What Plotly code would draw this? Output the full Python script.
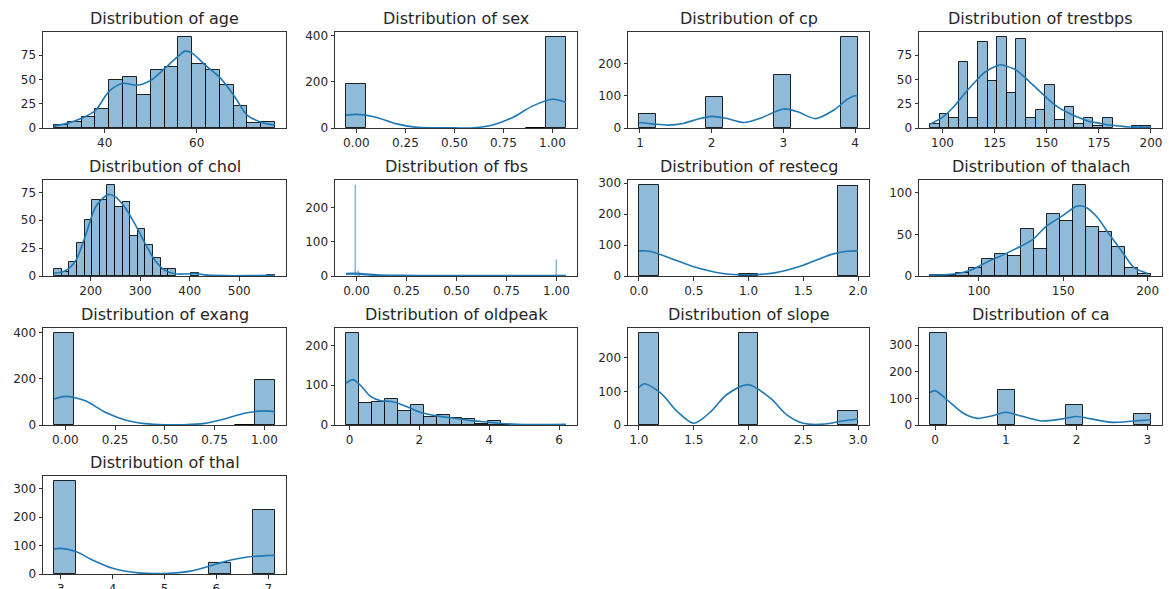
import numpy as np
import plotly.graph_objects as go

# ---------------- data ----------------
names = ["age", "sex", "cp", "trestbps", "chol", "fbs", "restecg", "thalach",
         "exang", "oldpeak", "slope", "ca", "thal"]

# histogram bins: (low edge, high edge, number of bins) and counts
age_bins = (29, 77, 16)
age_counts = [3, 6, 11, 20, 49, 52, 34, 60, 63, 94, 66, 60, 44, 23, 5, 6]
age_kde_x = [29, 32, 35, 38, 41, 44, 47, 50, 53, 56, 57.5, 59, 62, 65, 68, 71, 74, 77]
age_kde_y = [2, 5, 10, 18, 38, 46, 44, 49, 61, 74, 79, 77, 64, 52, 34, 13, 6, 3]

sex_bins = (-0.053, 1.069, 11)
sex_counts = [193, 0, 0, 0, 0, 0, 0, 0, 0, 2, 397]
sex_kde_x = [-0.053, 0, 0.1, 0.2, 0.3, 0.4, 0.5, 0.6, 0.7, 0.8, 0.9, 1.0, 1.069]
sex_kde_y = [55, 59, 47, 19, 4, 1, 0.5, 1, 14, 47, 96, 125, 112]

cp_bins = (0.986, 4.042, 13)
cp_counts = [44, 0, 0, 0, 95, 0, 0, 0, 165, 0, 0, 0, 283]
cp_kde_x = [0.99, 1.2, 1.4, 1.6, 1.8, 2.0, 2.2, 2.45, 2.7, 3.0, 3.2, 3.45, 3.7, 3.9, 4.0, 4.04]
cp_kde_y = [17, 12, 9, 14, 27, 36, 30, 17, 32, 59, 50, 29, 55, 90, 100, 98]

trestbps_bins = (94, 200, 23)
trestbps_counts = [4, 14, 10, 68, 10, 88, 48, 94, 36, 91, 10, 18, 44, 8, 22, 4, 10, 2, 10, 0, 0, 2, 2]
trestbps_kde_x = [94, 100, 105, 110, 115, 120, 125, 128, 130, 135, 140, 145, 150, 155, 160,
                  165, 170, 175, 180, 185, 190, 200]
trestbps_kde_y = [4, 11, 21, 34, 46, 57, 63, 65, 64, 60, 51, 41, 31, 22, 16, 11, 7, 5, 3, 2, 1, 1]

chol_bins = (126, 572, 29)
chol_counts = [6, 4, 13, 30, 50, 68, 68, 82, 62, 66, 36, 42, 28, 16, 6, 6, 0, 0, 3,
               0, 0, 0, 0, 0, 0, 0, 0, 0, 1]
chol_kde_x = [126, 150, 170, 190, 210, 235, 250, 270, 290, 310, 330, 350, 370, 400, 410, 430, 470, 520, 560, 572]
chol_kde_y = [2.4, 5, 14, 37, 62, 73, 71, 61, 46, 29, 14, 5, 2, 2, 2.5, 1, 0.3, 0.3, 0.6, 0.6]

fbs_range = (-0.053, 1.048)
fbs_spike_x = [-0.004, 0.008, 0.016, 1.0]
fbs_spike_y = [268, 16, 10, 46]
fbs_kde_x = [-0.053, -0.02, 0, 0.05, 0.1, 0.2, 0.3, 0.5, 0.8, 1.0, 1.048]
fbs_kde_y = [6, 7, 7, 5, 3, 1.2, 0.5, 0.2, 0.3, 0.8, 0.7]

restecg_bins = (0, 2, 11)
restecg_counts = [295, 0, 0, 0, 0, 7, 0, 0, 0, 0, 292]
restecg_kde_x = [0, 0.1, 0.25, 0.5, 0.75, 1.0, 1.25, 1.5, 1.75, 1.9, 2.0]
restecg_kde_y = [81, 80, 62, 30, 9, 4, 11, 35, 69, 80, 81]

thalach_bins = (71, 202, 17)
thalach_counts = [1, 1, 4, 10, 20, 27, 24, 57, 33, 74, 66, 110, 59, 53, 35, 10, 3]
thalach_kde_x = [71, 85, 95, 105, 115, 125, 132, 140, 150, 158, 163, 170, 177, 185, 192, 200]
thalach_kde_y = [1, 2.4, 7, 17, 26, 36, 44, 60, 73, 84, 83, 71, 51, 29, 10, 3]

exang_bins = (-0.057, 1.053, 11)
exang_counts = [400, 0, 0, 0, 0, 0, 0, 0, 0, 2, 193]
exang_kde_x = [-0.057, 0, 0.1, 0.2, 0.3, 0.4, 0.5, 0.6, 0.7, 0.8, 0.9, 1.0, 1.053]
exang_kde_y = [113, 124, 105, 55, 22, 6, 1, 1, 7, 26, 51, 61, 58]

oldpeak_bins = (-0.1, 6.2, 17)
oldpeak_counts = [232, 55, 59, 66, 34, 49, 21, 24, 17, 15, 3, 10, 1, 0, 0, 0, 1]
oldpeak_kde_x = [-0.1, 0.1, 0.3, 0.6, 0.9, 1.2, 1.5, 1.8, 2.1, 2.5, 3.0, 3.5, 4.0, 4.5, 5.0, 6.2]
oldpeak_kde_y = [105, 114, 101, 72, 61, 59, 51, 40, 30, 23, 17, 11, 7, 3, 1, 2]

slope_bins = (1, 3, 11)
slope_counts = [275, 0, 0, 0, 0, 273, 0, 0, 0, 0, 42]
slope_kde_x = [1.0, 1.05, 1.2, 1.35, 1.5, 1.65, 1.8, 2.0, 2.2, 2.35, 2.5, 2.7, 2.85, 3.0]
slope_kde_y = [112, 123, 95, 40, 5, 38, 90, 120, 80, 30, 5, 3, 12, 18]

ca_bins = (-0.07, 3.05, 13)
ca_counts = [347, 0, 0, 0, 130, 0, 0, 0, 76, 0, 0, 0, 40]
ca_kde_x = [-0.07, 0.0, 0.2, 0.4, 0.6, 0.8, 1.0, 1.2, 1.5, 1.8, 2.0, 2.2, 2.5, 2.8, 3.05]
ca_kde_y = [122, 129, 88, 44, 25, 34, 48, 35, 15, 23, 32, 23, 10, 15, 20]

thal_bins = (2.87, 7.13, 10)
thal_counts = [328, 0, 0, 0, 0, 0, 0, 37, 0, 225]
thal_kde_x = [2.87, 3.0, 3.3, 3.6, 4.0, 4.5, 5.0, 5.5, 6.0, 6.3, 6.6, 7.0, 7.13]
thal_kde_y = [88, 90, 78, 50, 20, 4, 2, 10, 35, 50, 60, 65, 66]

# tick settings
xticks = {
    "age": ([40, 60], ["40", "60"]),
    "sex": ([0, 0.25, 0.5, 0.75, 1.0], ["0.00", "0.25", "0.50", "0.75", "1.00"]),
    "cp": ([1, 2, 3, 4], ["1", "2", "3", "4"]),
    "trestbps": ([100, 125, 150, 175, 200], ["100", "125", "150", "175", "200"]),
    "chol": ([200, 300, 400, 500], ["200", "300", "400", "500"]),
    "fbs": ([0, 0.25, 0.5, 0.75, 1.0], ["0.00", "0.25", "0.50", "0.75", "1.00"]),
    "restecg": ([0, 0.5, 1.0, 1.5, 2.0], ["0.0", "0.5", "1.0", "1.5", "2.0"]),
    "thalach": ([100, 150, 200], ["100", "150", "200"]),
    "exang": ([0, 0.25, 0.5, 0.75, 1.0], ["0.00", "0.25", "0.50", "0.75", "1.00"]),
    "oldpeak": ([0, 2, 4, 6], ["0", "2", "4", "6"]),
    "slope": ([1.0, 1.5, 2.0, 2.5, 3.0], ["1.0", "1.5", "2.0", "2.5", "3.0"]),
    "ca": ([0, 1, 2, 3], ["0", "1", "2", "3"]),
    "thal": ([3, 4, 5, 6, 7], ["3", "4", "5", "6", "7"]),
}
yticks = {
    "age": [0, 25, 50, 75], "sex": [0, 200, 400], "cp": [0, 100, 200],
    "trestbps": [0, 25, 50, 75], "chol": [0, 25, 50, 75], "fbs": [0, 100, 200],
    "restecg": [0, 100, 200, 300], "thalach": [0, 50, 100], "exang": [0, 200, 400],
    "oldpeak": [0, 100, 200], "slope": [0, 100, 200], "ca": [0, 100, 200, 300],
    "thal": [0, 100, 200, 300],
}

hist = {
    "age": (age_bins, age_counts, age_kde_x, age_kde_y),
    "sex": (sex_bins, sex_counts, sex_kde_x, sex_kde_y),
    "cp": (cp_bins, cp_counts, cp_kde_x, cp_kde_y),
    "trestbps": (trestbps_bins, trestbps_counts, trestbps_kde_x, trestbps_kde_y),
    "chol": (chol_bins, chol_counts, chol_kde_x, chol_kde_y),
    "restecg": (restecg_bins, restecg_counts, restecg_kde_x, restecg_kde_y),
    "thalach": (thalach_bins, thalach_counts, thalach_kde_x, thalach_kde_y),
    "exang": (exang_bins, exang_counts, exang_kde_x, exang_kde_y),
    "oldpeak": (oldpeak_bins, oldpeak_counts, oldpeak_kde_x, oldpeak_kde_y),
    "slope": (slope_bins, slope_counts, slope_kde_x, slope_kde_y),
    "ca": (ca_bins, ca_counts, ca_kde_x, ca_kde_y),
    "thal": (thal_bins, thal_counts, thal_kde_x, thal_kde_y),
}

# ---------------- layout geometry (screen pixels) ----------------
W, H = 1169, 589
cols = [(43, 286), (335, 577), (628, 869), (919, 1162)]
rows = [(32, 128), (180, 276), (328, 425), (476, 574)]

BAR_FILL = "rgba(31,119,180,0.5)"
BAR_EDGE = "rgba(0,0,0,0.85)"
KDE_COLOR = "#1f77b4"
FONT = "DejaVu Sans"
TXT = "#262626"

fig = go.Figure()
layout = dict(width=W, height=H, margin=dict(l=0, r=0, t=0, b=0, autoexpand=False),
              paper_bgcolor="white", plot_bgcolor="white", showlegend=False,
              barmode="overlay", bargap=0, annotations=[])

for i, name in enumerate(names):
    r, c = divmod(i, 4)
    k = "" if i == 0 else str(i + 1)
    xa, ya = "x" + k, "y" + k
    x0, x1 = cols[c]
    y0, y1 = rows[r]

    if name == "fbs":
        lo, hi = fbs_range
        fig.add_trace(go.Bar(x=fbs_spike_x, y=fbs_spike_y, width=0.004,
                             marker=dict(color="rgba(31,119,180,0.55)",
                                         line=dict(color="rgba(31,119,180,0.35)", width=0.5)),
                             xaxis=xa, yaxis=ya, hoverinfo="skip"))
        fig.add_trace(go.Scatter(x=fbs_kde_x, y=fbs_kde_y, mode="lines",
                                 line=dict(color=KDE_COLOR, width=2.2, shape="spline"),
                                 xaxis=xa, yaxis=ya))
        ymax = max(fbs_spike_y)
    else:
        (lo, hi, n), counts, kx, ky = hist[name]
        edges = np.linspace(lo, hi, n + 1)
        centers = (edges[:-1] + edges[1:]) / 2
        bx = [cx for cx, v in zip(centers, counts) if v > 0]
        by = [v for v in counts if v > 0]
        fig.add_trace(go.Bar(x=bx, y=by, width=(hi - lo) / n,
                             marker=dict(color=BAR_FILL, line=dict(color=BAR_EDGE, width=1)),
                             xaxis=xa, yaxis=ya))
        fig.add_trace(go.Scatter(x=kx, y=ky, mode="lines",
                                 line=dict(color=KDE_COLOR, width=1.6, shape="spline", smoothing=0.8),
                                 xaxis=xa, yaxis=ya))
        ymax = max(counts)

    pad = 0.05 * (hi - lo)
    tv, tt = xticks[name]
    common = dict(showline=True, mirror=True, linecolor="#333", linewidth=1,
                  ticks="outside", ticklen=3.5, tickwidth=0.8, tickcolor="#333",
                  showgrid=False, zeroline=False, automargin=False,
                  tickfont=dict(family=FONT, size=12, color=TXT))
    layout["xaxis" + k] = dict(domain=[x0 / W, x1 / W], range=[lo - pad, hi + pad],
                               tickvals=tv, ticktext=tt, anchor=ya, **common)
    layout["yaxis" + k] = dict(domain=[1 - y1 / H, 1 - y0 / H], range=[0, ymax * 1.05],
                               tickvals=yticks[name], anchor=xa, **common)
    layout["annotations"].append(dict(
        text="Distribution of " + name, xref="paper", yref="paper",
        x=(x0 + x1) / 2 / W, y=1 - (y0 - 2) / H, xanchor="center", yanchor="bottom",
        showarrow=False, font=dict(family=FONT, size=16, color=TXT)))

fig.update_layout(**layout)
# place the figure flush with the page corner (no default body margin, no scrollbars)
fig.write_html("out.html", config={"displayModeBar": False},
               post_script="document.body.style.margin='0';"
                           "document.documentElement.style.overflow='hidden';"
                           "document.body.style.overflow='hidden';")
